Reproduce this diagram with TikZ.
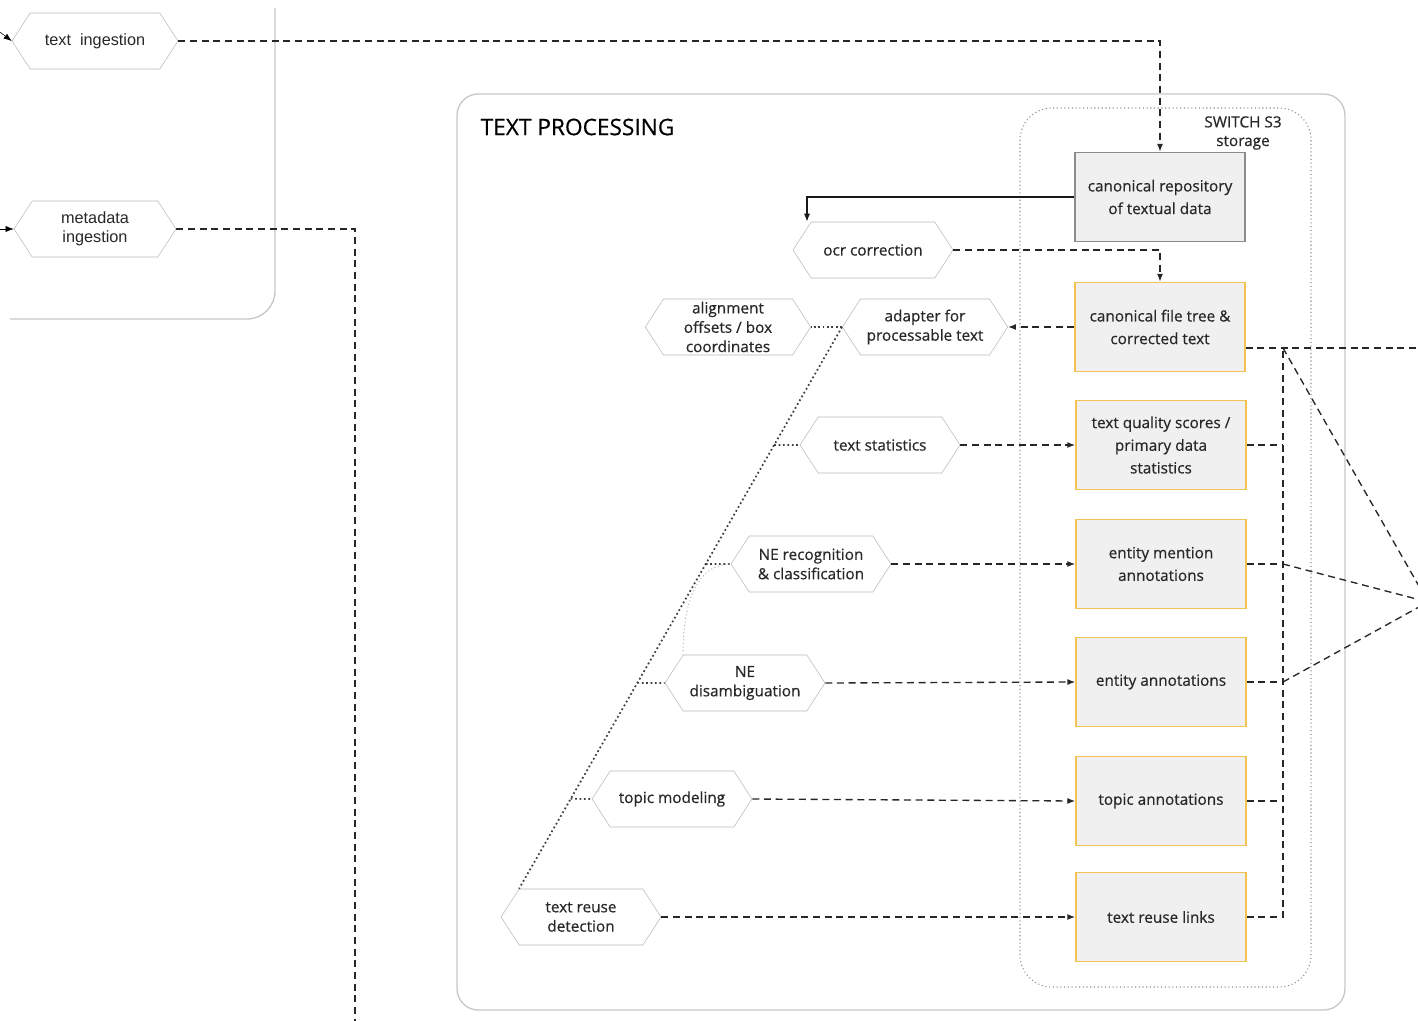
\documentclass[tikz,border=0pt]{standalone}
\usepackage{fontspec}
\setmainfont{Open Sans}[RawFeature={embolden=0.5}]
\newfontfamily\arialfont{Liberation Sans}
\usetikzlibrary{shapes,arrows.meta,positioning,calc}
\definecolor{boxgray}{RGB}{240,240,240}
\definecolor{edgegray}{RGB}{185,185,185}
\definecolor{framegray}{RGB}{200,200,200}
\definecolor{storeorange}{RGB}{243,196,84}
\definecolor{inkgray}{RGB}{40,40,40}
\tikzset{
  hexnode/.style={signal, signal to=west and east, signal pointer angle=114, draw=edgegray, fill=white,
    minimum width=120pt, minimum height=42pt, inner xsep=0pt, inner ysep=0pt, align=center,
    font=\fontsize{11.5}{14.5}\selectfont, text=inkgray},
  storebox/.style={rectangle, draw=storeorange, line width=1pt, fill=boxgray, minimum width=127.5pt,
    minimum height=66.75pt, align=center, font=\fontsize{11.5}{17}\selectfont, text=inkgray},
  repobox/.style={storebox, draw=black!45},
  flow/.style={draw=black!85, line width=1pt, dash pattern=on 5.25pt off 3.5pt},
  dotline/.style={draw=black!75, line width=1.3pt, dotted},
  lightdot/.style={draw=black!35, line width=0.7pt, dotted},
  tip/.style={-{Latex[length=6pt,width=4.5pt]}}
}
\begin{document}
\begin{tikzpicture}[x=0.75pt,y=-0.75pt]
\clip (0,0) rectangle (1418,1021);
\fill[white] (0,0) rectangle (1418,1021);

\draw[framegray, line width=1pt, rounded corners=21pt] (275,8) -- (275,319) -- (10,319);
\draw[framegray, line width=1pt, rounded corners=16pt] (457,94) rectangle (1345,1010);
\draw[black!45, line width=0.8pt, dotted, rounded corners=24pt] (1020,108) rectangle (1311,987);
\node[anchor=west, font=\fontsize{17}{20}\selectfont, text=black] (tptitle) at (476,127) {TEXT PROCESSING};
\node[align=center, font=\fontsize{11.5}{14}\selectfont, text=inkgray] (s3label) at (1243,133) {SWITCH S3\\storage};

\node[hexnode, minimum width=124.5pt, font=\arialfont\fontsize{12.2}{14.5}\selectfont] (txtin) at (95,41) {text\ \ ingestion};
\node[hexnode, minimum width=121.5pt, font=\arialfont\fontsize{12.2}{14.5}\selectfont] (metain) at (95,229) {metadata\\ingestion};

\node[repobox] (repo) at (1160,197) {canonical repository\\of textual data};
\node[storebox] (tree) at (1160,327) {canonical file tree \&\\corrected text};
\node[storebox] (quality) at (1161,445) {text quality scores /\\primary data\\statistics};
\node[storebox] (mention) at (1161,564) {entity mention\\annotations};
\node[storebox] (entity) at (1161,682) {entity annotations};
\node[storebox] (topicann) at (1161,801) {topic annotations};
\node[storebox] (links) at (1161,917) {text reuse links};

\node[hexnode] (ocr) at (873,250) {ocr correction};
\node[hexnode, minimum width=124pt] (adapter) at (925,327) {adapter for\\processable text};
\node[hexnode, minimum width=124pt] (align) at (728,327) {alignment\\offsets / box\\coordinates};
\node[hexnode] (stats) at (880,445) {text statistics};
\node[hexnode] (ner) at (811,564) {NE recognition\\\& classification};
\node[hexnode] (ned) at (745,683) {NE\\disambiguation};
\node[hexnode] (topic) at (672,799) {topic modeling};
\node[hexnode] (reuse) at (581,917) {text reuse\\detection};

\coordinate (txtsrc) at (-8,26);
\coordinate (metasrc) at (-8,229);
\coordinate (metaend) at (355,1030);
\coordinate (reusecorner) at ($(reuse.north)+(-62,0)$);
\coordinate (bustop) at (1283,348);
\coordinate (rightend) at (1430,348);
\coordinate (hub) at (1428,602);

\draw[tip, black] (txtsrc) -- (txtin.west);
\draw[tip, black] (metasrc) -- (metain.west);
\draw[flow, tip] (txtin.east) -| (repo.north);
\draw[flow] (metain.east) -| (metaend);

\draw[tip, black!90, line width=0.9pt] (repo.west) -| ($(ocr.north)+(-66,0)$);
\draw[flow, tip] (ocr.east) -| (tree.north);
\draw[flow, tip] (tree.west) -- (adapter.east);

\draw[dotline] (adapter.west) -- (align.east);
\draw[dotline] (adapter.west) -- (reusecorner);
\draw[dotline] ($(adapter.west)!0.21!(reusecorner)$) -- (stats.west);
\draw[dotline] ($(adapter.west)!0.4217!(reusecorner)$) -- (ner.west);
\draw[dotline] ($(adapter.west)!0.6335!(reusecorner)$) -- (ned.west);
\draw[dotline] ($(adapter.west)!0.8399!(reusecorner)$) -- (topic.west);
\draw[lightdot] ($(ned.north)+(-62,0)$) .. controls +(0,-60) and +(-30,0) .. (ner.west);

\draw[flow, tip] (stats.east) -- (quality.west);
\draw[flow, tip] (ner.east) -- (mention.west);
\draw[flow, tip] (ned.east) -- (entity.west);
\draw[flow, tip] (topic.east) -- (topicann.west);
\draw[flow, tip] (reuse.east) -- (links.west);

\draw[flow] ($(tree.east)+(0,21)$) -- (rightend);
\draw[flow] (links.east) -| (bustop);
\draw[flow] (quality.east) -- (quality.east -| bustop);
\draw[flow] (mention.east) -- (mention.east -| bustop);
\draw[flow] (entity.east) -- (entity.east -| bustop);
\draw[flow] (topicann.east) -- (topicann.east -| bustop);
\draw[flow] (bustop) -- (hub);
\draw[flow] (mention.east -| bustop) -- (hub);
\draw[flow] (entity.east -| bustop) -- (hub);
\end{tikzpicture}
\end{document}
